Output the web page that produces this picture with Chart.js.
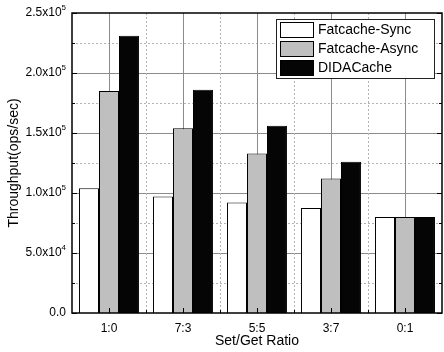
<!DOCTYPE html>
<html>
<head>
<meta charset="utf-8">
<script src="https://cdn.jsdelivr.net/npm/chart.js@4"></script>
<style>
  html, body { margin: 0; padding: 0; background: #fff; }
  #chart { display: block; }
</style>
</head>
<body>
<canvas id="chart" width="444" height="352"></canvas>
<script>
const ratios = ['1:0', '7:3', '5:5', '3:7', '0:1'];
const seriesNames = ['Fatcache-Sync', 'Fatcache-Async', 'DIDACache'];
const fatcacheSync = [104000, 97000, 92000, 87500, 80000];
const fatcacheAsync = [185000, 154000, 133000, 112000, 80000];
const didaCache = [231000, 186000, 156000, 126000, 80000];
const yTicks = [0, 50000, 100000, 150000, 200000, 250000];

const FONT = '"Liberation Sans", Arial, sans-serif';

function tickParts(v) {
    if (v === 0) return ['0.0', ''];
    const exp = Math.floor(Math.log10(v));
    const mant = (v / Math.pow(10, exp)).toFixed(1);
    return [mant + 'x10', String(exp)];
}

// grid lines, frame, inward ticks, y labels and legend
const decorPlugin = {
    id: 'decor',
    beforeDatasetsDraw(chart) {
        const ctx = chart.ctx;
        const a = chart.chartArea;
        const x = chart.scales.x, y = chart.scales.y;
        ctx.save();
        ctx.lineWidth = 1;
        // horizontal grid
        for (let v = 25000; v < 250000; v += 25000) {
            const py = Math.round(y.getPixelForValue(v)) + 0.5;
            const major = v % 50000 === 0;
            ctx.strokeStyle = major ? '#8c8c8c' : '#b4b4b4';
            ctx.setLineDash(major ? [] : [2, 2]);
            ctx.beginPath(); ctx.moveTo(a.left, py); ctx.lineTo(a.right, py); ctx.stroke();
        }
        // vertical grid
        ratios.forEach((r, i) => {
            const px = Math.round(x.getPixelForValue(i)) + 0.5;
            ctx.strokeStyle = '#8c8c8c';
            ctx.setLineDash([]);
            ctx.beginPath(); ctx.moveTo(px, a.top); ctx.lineTo(px, a.bottom); ctx.stroke();
            if (i < ratios.length - 1) {
                const bx = Math.round((x.getPixelForValue(i) + x.getPixelForValue(i + 1)) / 2) + 0.5;
                ctx.strokeStyle = '#b4b4b4';
                ctx.setLineDash([2, 2]);
                ctx.beginPath(); ctx.moveTo(bx, a.top); ctx.lineTo(bx, a.bottom); ctx.stroke();
            }
        });
        ctx.restore();
    },
    afterDraw(chart) {
        const ctx = chart.ctx;
        const a = chart.chartArea;
        const x = chart.scales.x, y = chart.scales.y;
        ctx.save();
        ctx.setLineDash([]);
        ctx.strokeStyle = '#000';
        ctx.lineWidth = 1;
        // inward ticks
        for (let v = 0; v <= 250000; v += 25000) {
            const py = Math.round(y.getPixelForValue(v)) + 0.5;
            const len = v % 50000 === 0 ? 5 : 3;
            ctx.beginPath(); ctx.moveTo(a.left, py); ctx.lineTo(a.left + len, py); ctx.stroke();
            ctx.beginPath(); ctx.moveTo(a.right, py); ctx.lineTo(a.right - len, py); ctx.stroke();
        }
        ratios.forEach((r, i) => {
            const px = Math.round(x.getPixelForValue(i)) + 0.5;
            ctx.beginPath(); ctx.moveTo(px, a.bottom); ctx.lineTo(px, a.bottom - 5); ctx.stroke();
            if (i < ratios.length - 1) {
                const bx = Math.round((x.getPixelForValue(i) + x.getPixelForValue(i + 1)) / 2) + 0.5;
                ctx.beginPath(); ctx.moveTo(bx, a.bottom); ctx.lineTo(bx, a.bottom - 3); ctx.stroke();
            }
        });
        // frame
        ctx.lineWidth = 1.5;
        ctx.strokeRect(a.left, a.top, a.right - a.left, a.bottom - a.top);

        // y tick labels with superscript exponent
        ctx.fillStyle = '#000';
        ctx.textBaseline = 'middle';
        yTicks.forEach(v => {
            const py = y.getPixelForValue(v);
            const parts = tickParts(v);
            ctx.font = '8px ' + FONT;
            const ew = parts[1] ? ctx.measureText(parts[1]).width : 0;
            const right = a.left - 6;
            ctx.textAlign = 'left';
            if (parts[1]) ctx.fillText(parts[1], right - ew, py - 5);
            ctx.font = '12px ' + FONT;
            ctx.textAlign = 'right';
            ctx.fillText(parts[0], right - ew, py);
        });

        // legend box
        const lx = 276, ly = 19, lw = 158, lh = 59;
        ctx.fillStyle = '#fff';
        ctx.fillRect(lx, ly, lw, lh);
        ctx.lineWidth = 1;
        ctx.strokeStyle = '#222';
        ctx.strokeRect(lx + 0.5, ly + 0.5, lw, lh);
        chart.data.datasets.forEach((ds, i) => {
            const cy = ly + 10 + i * 19;
            ctx.fillStyle = ds.backgroundColor;
            ctx.fillRect(lx + 4, cy - 7, 33, 15);
            ctx.strokeStyle = '#000';
            ctx.strokeRect(lx + 4.5, cy - 6.5, 33, 15);
            ctx.fillStyle = '#000';
            ctx.font = '14px ' + FONT;
            ctx.textAlign = 'left';
            ctx.textBaseline = 'middle';
            ctx.fillText(ds.label, lx + 42, cy + 1);
        });
        ctx.restore();
    }
};

new Chart(document.getElementById('chart'), {
    type: 'bar',
    data: {
        labels: ratios,
        datasets: [
            { label: seriesNames[0], data: fatcacheSync, backgroundColor: '#ffffff' },
            { label: seriesNames[1], data: fatcacheAsync, backgroundColor: '#c0bfc0' },
            { label: seriesNames[2], data: didaCache, backgroundColor: '#050505' }
        ]
    },
    options: {
        responsive: false,
        animation: false,
        layout: { padding: { top: 13, right: 2, left: 6, bottom: 0 } },
        datasets: {
            bar: {
                borderColor: '#000',
                borderWidth: 1,
                barPercentage: 1,
                categoryPercentage: 0.81
            }
        },
        plugins: {
            legend: { display: false },
            tooltip: { enabled: false }
        },
        scales: {
            x: {
                grid: { display: false },
                border: { display: false },
                ticks: { color: '#000', padding: 0, font: { family: FONT, size: 12 } },
                title: {
                    display: true, text: 'Set/Get Ratio', color: '#000',
                    padding: { top: 0, bottom: 2 },
                    font: { family: FONT, size: 14 }
                },
                afterFit(scale) { scale.height = 39; }
            },
            y: {
                min: 0,
                max: 250000,
                grid: { display: false },
                border: { display: false },
                ticks: { display: false, stepSize: 50000 },
                title: {
                    display: true, text: 'Throughput(ops/sec)', color: '#000',
                    padding: { top: 0, bottom: 0 },
                    font: { family: FONT, size: 14 }
                },
                afterFit(scale) { scale.width = 66; }
            }
        }
    },
    plugins: [decorPlugin]
});
</script>
</body>
</html>
